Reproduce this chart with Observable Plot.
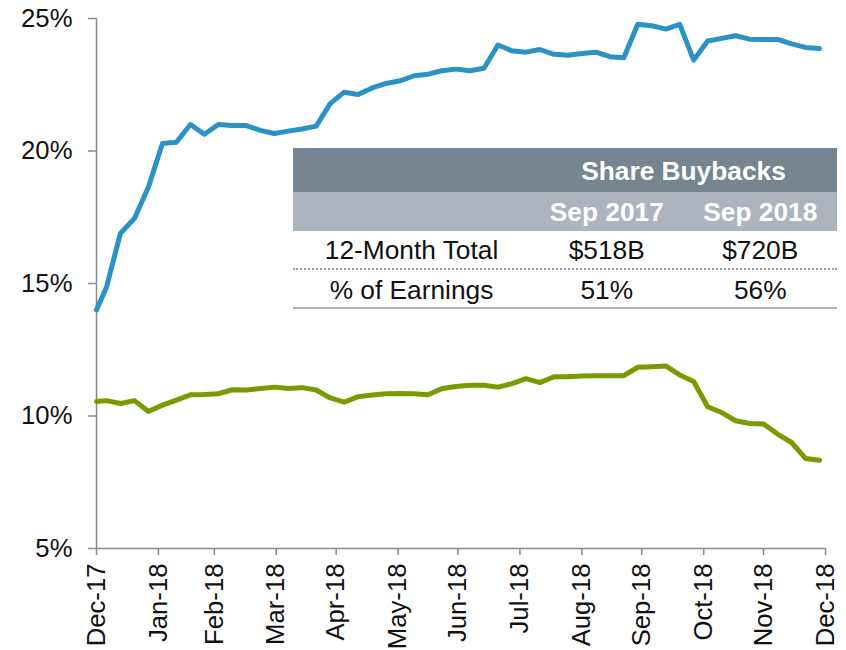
<!DOCTYPE html>
<html><head><meta charset="utf-8">
<script src="https://cdn.jsdelivr.net/npm/d3@7"></script>
<script src="https://cdn.jsdelivr.net/npm/@observablehq/plot@0.6"></script>
<style>
body{margin:0;background:#fff;font-family:"Liberation Sans",Arial,sans-serif;}
#wrap{position:relative;width:846px;height:650px;overflow:hidden;}
#tbl{position:absolute;left:293px;top:148px;width:544px;font-size:26.3px;color:#111;}
#tbl .row{display:flex;}
#tbl .c0{width:237px;text-align:center;}
#tbl .c{width:153.5px;text-align:center;}
#tbl .c12{width:307px;text-align:center;}
#tbl .hdr{background:#768590;color:#fff;font-weight:bold;padding-top:2px;height:42px;line-height:42px;}
#tbl .sub{background:#AEB4BD;color:#fff;font-weight:bold;padding-top:2px;height:37px;line-height:37px;}
#tbl .r1{padding-top:2px;height:35px;line-height:35px;border-bottom:2px dotted #999;}
#tbl .r2{padding-top:3px;height:34px;line-height:34px;border-bottom:2px solid #b3b3b3;}
</style></head>
<body><div id="wrap"></div>
<script>
const dates = ["2017-12-31","2018-01-05","2018-01-12","2018-01-19","2018-01-26","2018-02-02","2018-02-09","2018-02-16","2018-02-23","2018-03-02","2018-03-09","2018-03-16","2018-03-23","2018-03-30","2018-04-06","2018-04-13","2018-04-20","2018-04-27","2018-05-04","2018-05-11","2018-05-18","2018-05-25","2018-06-01","2018-06-08","2018-06-15","2018-06-22","2018-06-29","2018-07-06","2018-07-13","2018-07-20","2018-07-27","2018-08-03","2018-08-10","2018-08-17","2018-08-24","2018-08-31","2018-09-07","2018-09-14","2018-09-21","2018-09-28","2018-10-05","2018-10-12","2018-10-19","2018-10-26","2018-11-02","2018-11-09","2018-11-16","2018-11-23","2018-11-30","2018-12-07","2018-12-14","2018-12-21","2018-12-28"];
const upperValues = [14.0,14.86,16.90,17.45,18.64,20.28,20.33,21.0,20.63,21.0,20.96,20.96,20.78,20.66,20.75,20.83,20.94,21.79,22.22,22.13,22.38,22.55,22.65,22.84,22.90,23.03,23.09,23.03,23.12,24.0,23.78,23.73,23.83,23.65,23.61,23.68,23.73,23.56,23.52,24.78,24.73,24.60,24.78,23.43,24.15,24.25,24.35,24.22,24.21,24.21,24.04,23.91,23.87];
const lowerValues = [10.55,10.58,10.47,10.58,10.17,10.41,10.60,10.80,10.81,10.84,10.99,10.98,11.04,11.09,11.04,11.07,10.98,10.68,10.52,10.73,10.79,10.84,10.85,10.84,10.80,11.04,11.11,11.16,11.16,11.09,11.22,11.41,11.26,11.48,11.48,11.51,11.52,11.52,11.52,11.84,11.86,11.89,11.55,11.30,10.35,10.13,9.82,9.72,9.70,9.32,9.00,8.40,8.33];
const tickDates = ["2017-12-31","2018-01-31","2018-02-28","2018-03-31","2018-04-30","2018-05-31","2018-06-30","2018-07-31","2018-08-31","2018-09-30","2018-10-31","2018-11-30","2018-12-31"];
const tickLabels = ["Dec-17","Jan-18","Feb-18","Mar-18","Apr-18","May-18","Jun-18","Jul-18","Aug-18","Sep-18","Oct-18","Nov-18","Dec-18"];
const yTicks = [5,10,15,20,25];
const tableTitle = "Share Buybacks";
const tableColumns = ["Sep 2017","Sep 2018"];
const rowLabels = ["12-Month Total","% of Earnings"];
const sep2017Values = ["$518B","51%"];
const sep2018Values = ["$720B","56%"];

const parse = d3.utcParse("%Y-%m-%d");
const data = dates.flatMap((d,i)=>[
  {date:parse(d), value:upperValues[i], series:"upper"},
  {date:parse(d), value:lowerValues[i], series:"lower"}
]);
const tickD = tickDates.map(parse);
const labelOf = new Map(tickD.map((d,i)=>[+d, tickLabels[i]]));

const chart = Plot.plot({
  width:846, height:650, marginLeft:96, marginRight:21, marginTop:18, marginBottom:102,
  style:{fontFamily:"Liberation Sans, Arial, sans-serif", fontSize:"26px", color:"#111", background:"#fff"},
  x:{type:"utc", domain:[tickD[0], tickD[tickD.length-1]]},
  y:{domain:[5,25]},
  color:{domain:["upper","lower"], range:["#2B92C6","#7A9A01"]},
  marks:[
    Plot.ruleX([tickD[0]], {stroke:"#8a8a8a", strokeWidth:1.5}),
    Plot.ruleY([5], {stroke:"#8a8a8a", strokeWidth:1.5}),
    Plot.axisY({ticks:yTicks, tickFormat:d=>d+"%", tickSize:8, tickPadding:16, stroke:"#8a8a8a", strokeWidth:1.5, fill:"#111", label:null, fontSize:25.7}),
    Plot.axisX({ticks:tickD, tickFormat:d=>labelOf.get(+d), tickSize:7, tickPadding:8, tickRotate:-90, stroke:"#8a8a8a", strokeWidth:1.5, fill:"#111", label:null, fontSize:25.7}),
    Plot.line(data, {x:"date", y:"value", z:"series", stroke:"series", strokeWidth:5, strokeLinejoin:"round", strokeLinecap:"round"})
  ]
});
const wrap = document.getElementById("wrap");
wrap.appendChild(chart);

// inset table
const tbl = document.createElement("div");
tbl.id = "tbl";
let html = `<div class="row hdr"><div class="c0"></div><div class="c12">${tableTitle}</div></div>`;
html += `<div class="row sub"><div class="c0"></div>${tableColumns.map(c=>`<div class="c">${c}</div>`).join("")}</div>`;
rowLabels.forEach((lab,i)=>{
  html += `<div class="row r${i+1}"><div class="c0">${lab}</div><div class="c">${sep2017Values[i]}</div><div class="c">${sep2018Values[i]}</div></div>`;
});
tbl.innerHTML = html;
wrap.appendChild(tbl);
</script>
</body></html>
